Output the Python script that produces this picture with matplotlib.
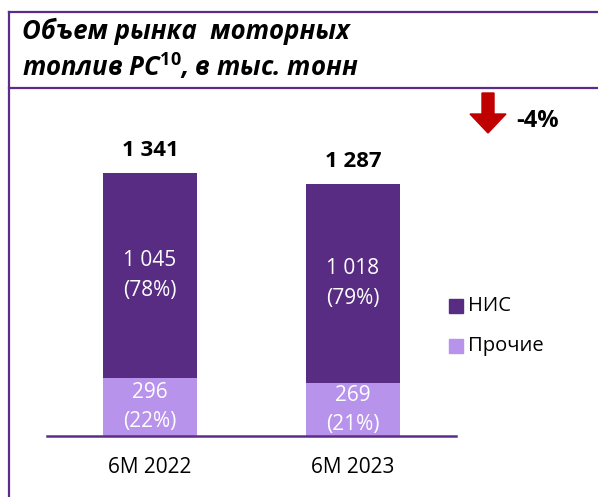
import matplotlib.pyplot as plt
from matplotlib.lines import Line2D
from matplotlib.patches import FancyArrow, Rectangle

plt.rcParams['font.family'] = ['Open Sans', 'DejaVu Sans']
plt.rcParams['mathtext.fontset'] = 'custom'
plt.rcParams['mathtext.it'] = 'Open Sans:italic:bold'
plt.rcParams['mathtext.rm'] = 'Open Sans:bold'

# Data
periods = ['6M 2022', '6M 2023']
nis = [1045, 1018]
other = [296, 269]
totals = [1341, 1287]
nis_share = ['78%', '79%']
other_share = ['22%', '21%']
change = '-4%'

DARK = '#582C83'
LIGHT = '#B793EB'
FRAME = '#5B2C8A'
RED = '#C00000'

W, H = 598, 497
fig = plt.figure(figsize=(W / 100, H / 100), dpi=100)

# frame lines (pixel coords converted to figure fraction)
def px(x, y):
    return x / W, 1 - y / H

for (x0, y0), (x1, y1) in [((9, 12), (W, 12)), ((9, 12), (9, H)), ((9, 88), (W, 88))]:
    a, b = px(x0, y0)
    c, d = px(x1, y1)
    fig.add_artist(Line2D([a, c], [b, d], color=FRAME, lw=1.6, transform=fig.transFigure))

# title
tx, ty = px(22, 31)
fig.text(tx, ty, 'Объем рынка  моторных', fontsize=18.5, fontweight='bold',
         fontstyle='italic', va='center', ha='left')
tx, ty = px(22, 67)
fig.text(tx, ty, r'топлив РС$^{\mathit{10}}$, в тыс. тонн', fontsize=18.5, fontweight='bold',
         fontstyle='italic', va='center', ha='left')

# axes
ax = fig.add_axes([47 / W, (H - 436) / H, (456 - 47) / W, (436 - 100) / H])
x = range(len(periods))
ax.bar(x, other, width=0.46, color=LIGHT)
ax.bar(x, nis, width=0.46, bottom=other, color=DARK)
ax.set_xlim(-0.507, 1.507)
ax.set_ylim(0, 1713)
for s in ax.spines.values():
    s.set_visible(False)
ax.axhline(0, color=FRAME, lw=1.8, clip_on=False)
ax.set_yticks([])
ax.set_xticks(list(x))
ax.set_xticklabels(periods, fontsize=15)
ax.tick_params(axis='x', length=0, pad=15)

def fmt(v):
    return f'{v:,}'.replace(',', ' ')

for i in x:
    ax.text(i, other[i] + nis[i] / 2, f'{fmt(nis[i])}\n({nis_share[i]})', color='white',
            ha='center', va='center', fontsize=15, linespacing=1.55)
    ax.text(i, other[i] / 2, f'{fmt(other[i])}\n({other_share[i]})', color='white',
            ha='center', va='center', fontsize=15, linespacing=1.5)
    ax.text(i, totals[i] + 115, fmt(totals[i]), ha='center', va='center',
            fontsize=16, fontweight='bold')

# legend
for label, col, yy in [('НИС', DARK, 306), ('Прочие', LIGHT, 346)]:
    lx, ly = px(449, yy + 7)
    fig.add_artist(Rectangle((lx, ly), 14 / W, 14 / H, color=col, transform=fig.transFigure))
    tx, ty = px(468, yy)
    fig.text(tx, ty, label, fontsize=14.5, va='center', ha='left')

# change arrow
ax0, ay0 = px(488, 93)
fig.add_artist(FancyArrow(ax0, ay0, 0, -40 / H, width=12 / W, head_width=36 / W,
                          head_length=19 / H, length_includes_head=True,
                          color=RED, transform=fig.transFigure))
tx, ty = px(516, 121)
fig.text(tx, ty, change, fontsize=17, fontweight='bold', va='center', ha='left')

fig.savefig('out.png', dpi=100)
